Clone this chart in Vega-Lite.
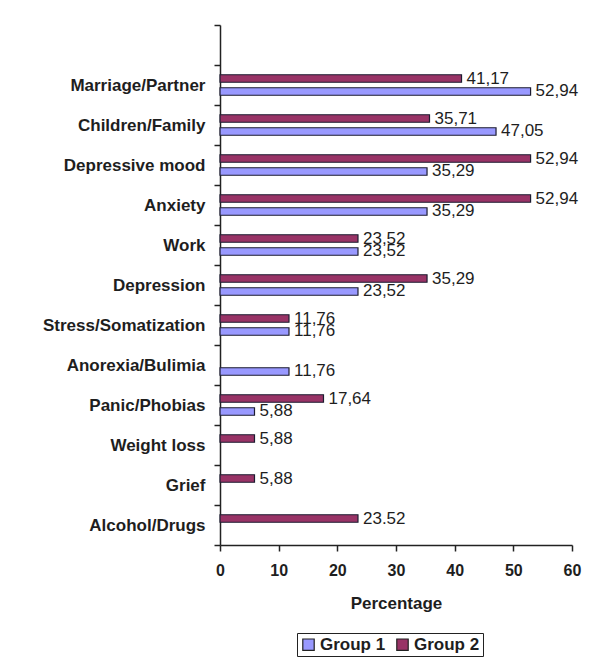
{
  "$schema": "https://vega.github.io/schema/vega-lite/v6.json",
  "autosize": {"type": "none"},
  "width": 352,
  "height": 520,
  "padding": {"left": 220, "top": 25, "right": 22, "bottom": 119},
  "background": "white",
  "config": {
    "view": {"stroke": null},
    "font": "Liberation Sans",
    "axis": {"domainColor": "#222", "tickColor": "#222", "domainWidth": 1.5, "tickWidth": 1.5, "labelColor": "#1e1e1e", "titleColor": "#1e1e1e", "grid": false}
  },
  "data": {"values": [
    {"category": "Marriage/Partner", "group": "Group 1", "value": 52.94, "label": "52,94"},
    {"category": "Marriage/Partner", "group": "Group 2", "value": 41.17, "label": "41,17"},
    {"category": "Children/Family", "group": "Group 1", "value": 47.05, "label": "47,05"},
    {"category": "Children/Family", "group": "Group 2", "value": 35.71, "label": "35,71"},
    {"category": "Depressive mood", "group": "Group 1", "value": 35.29, "label": "35,29"},
    {"category": "Depressive mood", "group": "Group 2", "value": 52.94, "label": "52,94"},
    {"category": "Anxiety", "group": "Group 1", "value": 35.29, "label": "35,29"},
    {"category": "Anxiety", "group": "Group 2", "value": 52.94, "label": "52,94"},
    {"category": "Work", "group": "Group 1", "value": 23.52, "label": "23,52"},
    {"category": "Work", "group": "Group 2", "value": 23.52, "label": "23,52"},
    {"category": "Depression", "group": "Group 1", "value": 23.52, "label": "23,52"},
    {"category": "Depression", "group": "Group 2", "value": 35.29, "label": "35,29"},
    {"category": "Stress/Somatization", "group": "Group 1", "value": 11.76, "label": "11,76"},
    {"category": "Stress/Somatization", "group": "Group 2", "value": 11.76, "label": "11,76"},
    {"category": "Anorexia/Bulimia", "group": "Group 1", "value": 11.76, "label": "11,76"},
    {"category": "Panic/Phobias", "group": "Group 1", "value": 5.88, "label": "5,88"},
    {"category": "Panic/Phobias", "group": "Group 2", "value": 17.64, "label": "17,64"},
    {"category": "Weight loss", "group": "Group 2", "value": 5.88, "label": "5,88"},
    {"category": "Grief", "group": "Group 2", "value": 5.88, "label": "5,88"},
    {"category": "Alcohol/Drugs", "group": "Group 2", "value": 23.52, "label": "23.52"}
  ]},
  "encoding": {
    "y": {
      "field": "category", "type": "nominal",
      "scale": {"domain": [" ", "Marriage/Partner", "Children/Family", "Depressive mood", "Anxiety", "Work", "Depression", "Stress/Somatization", "Anorexia/Bulimia", "Panic/Phobias", "Weight loss", "Grief", "Alcohol/Drugs"], "paddingInner": 0, "paddingOuter": 0},
      "axis": {"title": null, "tickBand": "extent", "tickSize": 6, "labelPadding": 9, "labelFontSize": 17, "labelFontWeight": "bold", "labelLimit": 250}
    },
    "yOffset": {
      "field": "group", "type": "nominal",
      "scale": {"domain": ["Group 2", "Group 1"], "paddingInner": 0.42, "paddingOuter": 0.75}
    },
    "x": {
      "field": "value", "type": "quantitative",
      "scale": {"domain": [0, 60], "nice": false},
      "axis": {"title": "Percentage", "values": [0, 10, 20, 30, 40, 50, 60], "tickSize": 6, "labelPadding": 11, "labelFontSize": 16, "labelFontWeight": "bold", "labelFlush": false, "titleFontSize": 17, "titleFontWeight": "bold", "titlePadding": 17}
    }
  },
  "layer": [
    {
      "mark": {"type": "bar", "stroke": "#1c1c30", "strokeWidth": 1.2},
      "encoding": {
        "color": {
          "field": "group", "type": "nominal",
          "scale": {"domain": ["Group 1", "Group 2"], "range": ["#9999FF", "#993366"]},
          "legend": {"title": null, "orient": "none", "legendX": 77, "legendY": 608, "direction": "horizontal", "strokeColor": "#222", "padding": 3, "symbolType": "square", "symbolSize": 130, "symbolStrokeColor": "#222", "symbolStrokeWidth": 1.2, "symbolOpacity": 1, "labelFontSize": 17, "labelFontWeight": "bold", "labelColor": "#1e1e1e", "columnPadding": 8, "labelOffset": 3}
        }
      }
    },
    {
      "mark": {"type": "text", "align": "left", "baseline": "middle", "dx": 5, "fontSize": 17, "color": "#1e1e1e"},
      "encoding": {"text": {"field": "label", "type": "nominal"}}
    }
  ]
}
